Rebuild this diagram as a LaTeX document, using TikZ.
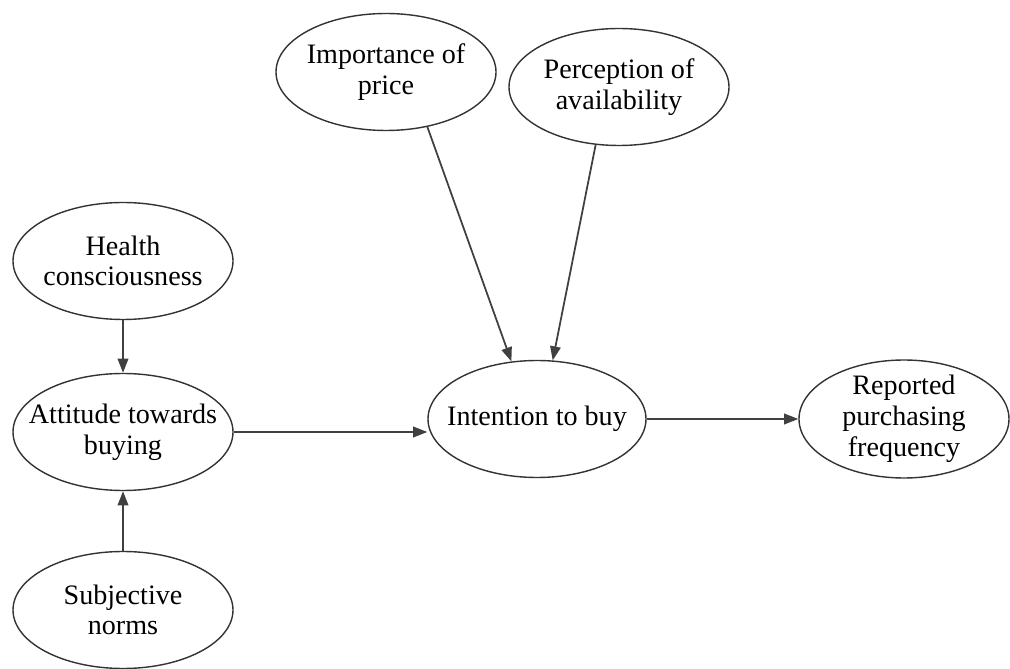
\documentclass[tikz,border=0pt]{standalone}
\usepackage{fontspec}
\setmainfont{Liberation Serif}
\usetikzlibrary{arrows.meta, shapes.geometric}

\begin{document}
\begin{tikzpicture}[>={Triangle[length=8pt, width=6pt]},
    construct/.style={ellipse, draw=black!80, line width=0.8pt, inner sep=-0.5cm,
        minimum width=4.4cm, minimum height=2.34cm, align=center,
        font=\fontsize{16}{17.5}\selectfont},
    link/.style={->, draw=black!75, line width=1pt}]
    \useasboundingbox (0,0) rectangle (20.2,13.36);
    % Antecedents of the attitude
    \node[construct] (hea) at (2.46, 8.14) {Health\\consciousness};
    \node[construct] (att) at (2.46, 4.72) {Attitude towards\\buying};
    \node[construct] (sub) at (2.46, 1.16) {Subjective\\norms};
    % Top constructs
    \node[construct] (imp) at (7.72, 11.92) {Importance of\\price};
    \node[construct] (per) at (12.38, 11.62) {Perception of\\availability};
    % Intention and behaviour
    \node[construct, minimum width=4.36cm] (int) at (10.74, 4.98) {Intention to buy};
    \node[construct, minimum width=4.2cm, minimum height=2.36cm] (rep) at (18.08, 4.98)
        {Reported\\purchasing\\frequency};
    % Paths
    \draw[link] (hea) -- (att);
    \draw[link] (sub) -- (att);
    \draw[link] (att.east) -- (att.east -| int.west);
    \draw[link] (imp.-53) -- (int.114);
    \draw[link] (per.-112) -- (int.75);
    \draw[link] (int) -- (rep);
\end{tikzpicture}
\end{document}
